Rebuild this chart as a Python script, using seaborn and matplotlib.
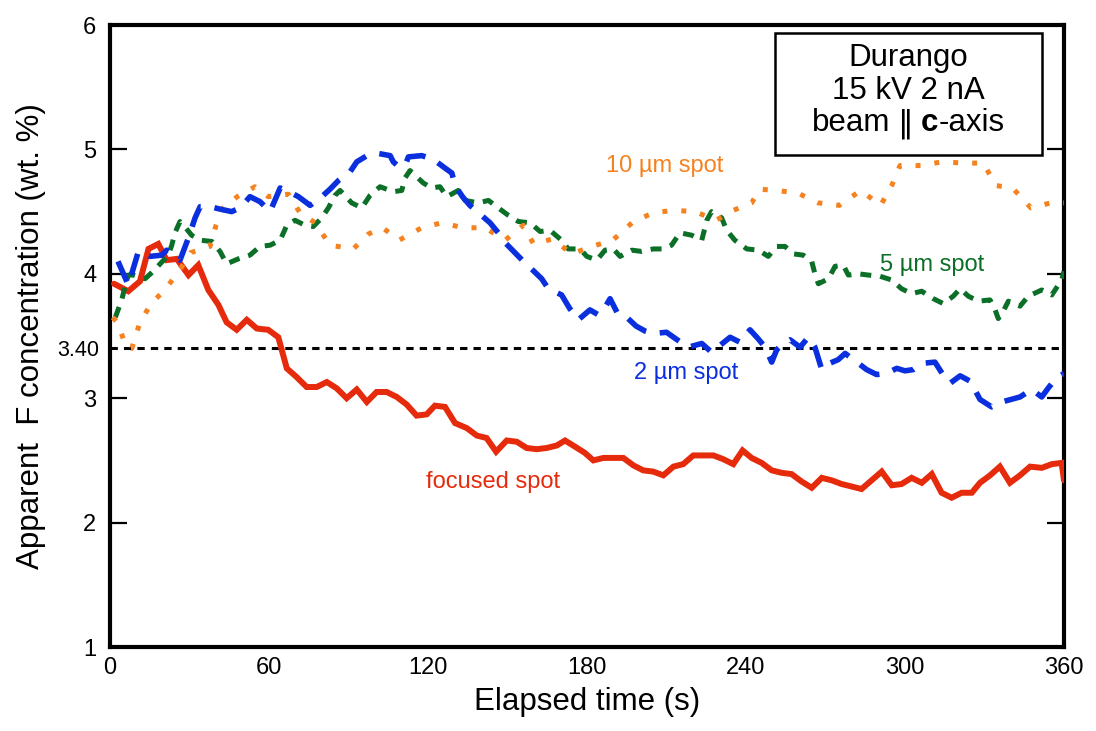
import matplotlib
matplotlib.use("Agg")
import matplotlib.pyplot as plt
import seaborn as sns
from matplotlib.patches import Rectangle
from matplotlib.offsetbox import TextArea, HPacker, VPacker, AnnotationBbox

# ---------------- data ----------------
focused_t = [1.5, 6.9, 11.3, 14.5, 18.2, 21.4, 25.2, 29.6, 33.3, 37.1, 40.9, 44.0, 47.8, 51.6, 55.4,
             59.7, 63.5, 66.7, 70.4, 74.2, 78.0, 81.8, 85.5, 89.3, 93.1, 96.9, 100.6, 104.4, 108.2,
             111.9, 115.7, 119.5, 122.6, 126.4, 130.2, 134.6, 138.4, 142.1, 145.7, 149.7, 153.5,
             157.2, 161.0, 164.8, 168.6, 171.7, 175.5, 179.2, 182.4, 186.2, 190.0, 193.7, 197.5,
             201.2, 205.0, 208.8, 212.6, 216.3, 220.1, 223.9, 227.7, 231.4, 235.2, 238.7, 242.1,
             245.9, 249.7, 253.5, 257.2, 261.0, 264.8, 268.6, 272.3, 276.1, 279.9, 283.6, 287.4,
             291.2, 295.0, 298.7, 302.5, 306.3, 310.1, 313.8, 317.6, 321.4, 325.2, 328.3, 332.1,
             335.8, 339.6, 343.4, 347.2, 351.6, 355.4, 359.1, 360.0]
focused_v = [3.92, 3.86, 3.94, 4.20, 4.24, 4.11, 4.12, 3.99, 4.07, 3.87, 3.75, 3.61, 3.55, 3.63, 3.56,
             3.55, 3.49, 3.24, 3.17, 3.09, 3.09, 3.13, 3.08, 3.00, 3.07, 2.97, 3.05, 3.05, 3.01,
             2.95, 2.86, 2.87, 2.94, 2.93, 2.80, 2.76, 2.70, 2.68, 2.57, 2.66, 2.65,
             2.60, 2.59, 2.60, 2.62, 2.66, 2.61, 2.56, 2.50, 2.52, 2.52, 2.52, 2.46,
             2.42, 2.41, 2.38, 2.45, 2.47, 2.54, 2.54, 2.54, 2.51, 2.47, 2.58, 2.52,
             2.48, 2.42, 2.40, 2.39, 2.33, 2.28, 2.36, 2.34, 2.31, 2.29, 2.27, 2.34,
             2.41, 2.30, 2.31, 2.36, 2.32, 2.39, 2.24, 2.20, 2.24, 2.24, 2.32, 2.38,
             2.45, 2.32, 2.38, 2.45, 2.44, 2.47, 2.48, 2.34]

spot2_t = [3.0, 6.9, 10.7, 15.1, 19.5, 21.4, 26.4, 29.6, 32.1, 34.0, 37.7, 41.5, 45.9, 49.1, 52.8,
           56.6, 60.4, 64.2, 67.5, 71.1, 75.5, 79.9, 83.0, 86.2, 90.6, 93.1, 97.0, 100.6, 105.7,
           106.9, 109.0, 111.3, 112.6, 117.6, 122.0, 126.4, 129.0, 130.2, 133.0, 135.8, 143.4,
           146.5, 149.1, 156.0, 159.5, 162.9, 165.4, 170.4, 173.5, 176.7, 181.1, 184.3, 186.5,
           188.7, 191.8, 195.0, 198.5, 201.9, 205.0, 210.0, 214.0, 218.2, 223.3, 227.0, 230.5,
           234.0, 237.7, 241.5, 244.5, 247.2, 249.7, 251.6, 254.0, 256.6, 260.4, 263.5, 266.0,
           268.6, 271.5, 274.8, 277.4, 281.8, 285.5, 289.3, 293.0, 296.9, 300.0, 303.1, 306.3,
           311.3, 314.0, 317.0, 320.8, 325.2, 326.8, 328.3, 332.7, 336.5, 340.0, 343.4, 347.8,
           351.6, 354.0, 356.6, 360.0]
spot2_v = [4.10, 3.91, 4.18, 4.14, 4.15, 4.19, 4.11, 4.29, 4.45, 4.54, 4.54, 4.52, 4.50, 4.53, 4.62,
           4.58, 4.50, 4.69, 4.66, 4.62, 4.55, 4.62, 4.68, 4.75, 4.82, 4.90, 4.95, 4.97, 4.95,
           4.90, 4.86, 4.87, 4.94, 4.95, 4.92, 4.85, 4.81, 4.71, 4.62, 4.55, 4.41,
           4.33, 4.25, 4.10, 4.03, 3.96, 3.88, 3.83, 3.72, 3.63, 3.71, 3.67, 3.72,
           3.80, 3.67, 3.65, 3.58, 3.54, 3.52, 3.53, 3.47, 3.41, 3.44, 3.37, 3.43,
           3.49, 3.45, 3.55, 3.48, 3.41, 3.29, 3.39, 3.44, 3.47, 3.41, 3.49, 3.41,
           3.23, 3.28, 3.31, 3.36, 3.29, 3.23, 3.19, 3.20, 3.24, 3.22, 3.23, 3.28,
           3.29, 3.20, 3.12, 3.18, 3.13, 3.05, 2.99, 2.93, 2.97, 2.99, 3.01, 3.07,
           3.01, 3.08, 3.15, 3.20]

spot5_t = [2.0, 4.4, 5.7, 6.9, 8.8, 13.2, 16.3, 18.9, 22.0, 23.3, 24.5, 26.4, 28.5, 30.8, 34.0,
           38.4, 41.5, 44.0, 48.4, 52.8, 56.6, 60.4, 64.2, 66.7, 69.8, 73.6, 76.7, 79.9, 82.4,
           84.9, 86.8, 91.2, 95.0, 98.1, 101.9, 106.9, 110.1, 111.3, 113.2, 118.2, 121.4, 124.5,
           127.1, 131.4, 134.0, 139.0, 142.8, 146.5, 150.3, 154.1, 158.5, 162.3, 166.0, 170.4,
           172.9, 177.4, 179.9, 183.7, 186.8, 189.9, 192.5, 196.9, 200.6, 205.0, 208.8, 211.9,
           215.1, 219.5, 223.3, 225.2, 227.0, 230.8, 232.7, 235.8, 240.3, 244.7, 248.4, 251.6,
           254.7, 257.9, 261.6, 264.8, 266.0, 267.3, 271.1, 273.6, 276.7, 278.6, 282.4, 286.1,
           290.6, 295.0, 298.7, 302.5, 306.3, 310.7, 314.5, 318.2, 320.8, 323.9, 327.7, 332.1,
           334.0, 335.2, 337.1, 339.0, 343.4, 346.5, 351.6, 355.4, 359.1, 360.0]
spot5_v = [3.65, 3.79, 3.90, 3.99, 3.99, 3.96, 4.02, 4.08, 4.15, 4.23, 4.33, 4.42, 4.37, 4.31, 4.27,
           4.26, 4.18, 4.08, 4.12, 4.15, 4.22, 4.23, 4.27, 4.39, 4.43, 4.39, 4.38, 4.45, 4.53,
           4.63, 4.67, 4.57, 4.53, 4.63, 4.70, 4.66, 4.67, 4.77, 4.83, 4.73, 4.69, 4.70,
           4.62, 4.67, 4.59, 4.57, 4.59, 4.53, 4.47, 4.42, 4.41, 4.34, 4.35, 4.27,
           4.20, 4.20, 4.14, 4.11, 4.19, 4.20, 4.14, 4.19, 4.18, 4.20, 4.20, 4.23,
           4.33, 4.31, 4.27, 4.43, 4.50, 4.45, 4.35, 4.27, 4.20, 4.19, 4.14, 4.22,
           4.22, 4.16, 4.15, 4.10, 4.00, 3.92, 3.96, 4.06, 4.07, 3.99, 4.00, 3.99,
           3.98, 3.95, 3.88, 3.84, 3.86, 3.80, 3.76, 3.82, 3.88, 3.82, 3.78, 3.79,
           3.71, 3.64, 3.70, 3.78, 3.74, 3.82, 3.87, 3.83, 3.95, 4.02]

spot10_t = [1.0, 3.1, 5.7, 8.2, 11.0, 15.1, 21.0, 26.0, 30.4, 37.7, 40.0, 42.8, 48.0, 54.7, 59.7,
            67.3, 71.7, 77.4, 83.0, 91.8, 97.5, 102.9, 109.1, 117.6, 125.2, 133.3, 141.5, 149.1,
            156.0, 159.8, 167.0, 174.2, 181.8, 189.7, 197.5, 205.0, 212.6, 220.8, 228.7, 235.2,
            242.1, 245.3, 251.3, 259.4, 267.3, 275.2, 283.3, 290.8, 295.0, 298.1, 306.3, 313.8,
            322.6, 329.6, 334.2, 340.6, 347.5, 355.0, 360.0]
spot10_v = [3.65, 3.60, 3.43, 3.40, 3.59, 3.75, 3.88, 4.02, 4.17, 4.22, 4.39, 4.53, 4.62, 4.70, 4.62,
            4.64, 4.49, 4.41, 4.23, 4.20, 4.32, 4.37, 4.27, 4.37, 4.41, 4.37, 4.37, 4.27,
            4.39, 4.24, 4.28, 4.16, 4.22, 4.27, 4.42, 4.49, 4.51, 4.50, 4.43, 4.51,
            4.57, 4.68, 4.67, 4.65, 4.57, 4.55, 4.67, 4.55, 4.71, 4.87, 4.87, 4.90,
            4.89, 4.89, 4.71, 4.69, 4.53, 4.57, 4.57]

reference_value = 3.40
x_ticks = [0, 60, 120, 180, 240, 300, 360]
y_ticks = [1, 2, 3, 4, 5, 6]
series_labels = ["focused spot", "2 µm spot", "5 µm spot", "10 µm spot"]
box_lines = ["Durango", "15 kV 2 nA"]

# ---------------- style ----------------
sns.set_theme(style="white")
FAM = ["Liberation Sans", "DejaVu Sans"]
plt.rcParams["font.family"] = FAM

RED = "#E62A0C"
BLUE = "#0A2FDF"
GREEN = "#0B6F27"
ORANGE = "#F5821F"

fig = plt.figure(figsize=(10.96, 7.31), dpi=100)
ax = fig.add_axes([0.1004, 0.1149, 0.8704, 0.8509])

ax.axhline(reference_value, color="black", lw=2.2, linestyle=(0, (2.4, 2.0)), zorder=1)

sns.lineplot(x=focused_t, y=focused_v, ax=ax, color=RED, lw=4.3, estimator=None,
             solid_joinstyle="miter", zorder=3)
sns.lineplot(x=spot5_t, y=spot5_v, ax=ax, color=GREEN, lw=3.6, estimator=None,
             linestyle=(0, (2.2, 1.8)), zorder=4)
sns.lineplot(x=spot10_t, y=spot10_v, ax=ax, color=ORANGE, lw=3.6, estimator=None,
             linestyle=(0, (1.0, 2.8)), zorder=5)
sns.lineplot(x=spot2_t, y=spot2_v, ax=ax, color=BLUE, lw=4.0, estimator=None,
             linestyle=(0, (4.0, 2.5)), zorder=6)

ax.set_xlim(0, 360)
ax.set_ylim(1, 6)
ax.set_xticks(x_ticks)
ax.set_yticks(y_ticks)
ax.set_yticks([reference_value], labels=[f"{reference_value:.2f}"], minor=True)

ax.tick_params(axis="x", length=0, labelsize=17, pad=7, colors="black")
ax.tick_params(axis="y", which="major", direction="in", length=12, width=1.6,
               left=True, right=True, labelsize=17, pad=10, colors="black")
ax.tick_params(axis="y", which="minor", length=0, labelsize=15.5, pad=8, left=True, colors="black")

for s in ax.spines.values():
    s.set_visible(True)
    s.set_linewidth(3.0)
    s.set_color("black")

ax.set_xlabel("Elapsed time (s)", fontsize=22.5, labelpad=6, color="black")
ax.set_ylabel("Apparent  F concentration (wt. %)", fontsize=22.5, labelpad=8, color="black")

# series labels
ax.text(209.4, 4.865, series_labels[3], color=ORANGE, fontsize=17, ha="center", va="center")
ax.text(310.2, 4.07, series_labels[2], color=GREEN, fontsize=17, ha="center", va="center")
ax.text(217.4, 3.20, series_labels[1], color=BLUE, fontsize=17, ha="center", va="center")
ax.text(144.5, 2.33, series_labels[0], color=RED, fontsize=17, ha="center", va="center")

# info box
ax.add_patch(Rectangle((0.697, 0.791), 0.280, 0.196, transform=ax.transAxes,
                       facecolor="white", edgecolor="black", lw=1.8, zorder=7))
tp = dict(size=22.5, family=FAM, color="black")
l1 = TextArea(box_lines[0], textprops=tp)
l2 = TextArea(box_lines[1], textprops=tp)
c_axis = HPacker(children=[TextArea("c", textprops=dict(tp, weight="bold")),
                           TextArea("-axis", textprops=tp)], pad=0, sep=0, align="baseline")
l3 = HPacker(children=[TextArea("beam", textprops=tp),
                       TextArea("\u2016", textprops=dict(size=22.5, family="DejaVu Sans", color="black")),
                       c_axis], pad=0, sep=5.5, align="baseline")
vbox = VPacker(children=[l1, l2, l3], pad=0, sep=2.0, align="center")
ab = AnnotationBbox(vbox, (0.8365, 0.894), xycoords=ax.transAxes, frameon=False,
                    box_alignment=(0.5, 0.5), zorder=8)
ax.add_artist(ab)

fig.savefig("out.png", dpi=100, facecolor="white")
